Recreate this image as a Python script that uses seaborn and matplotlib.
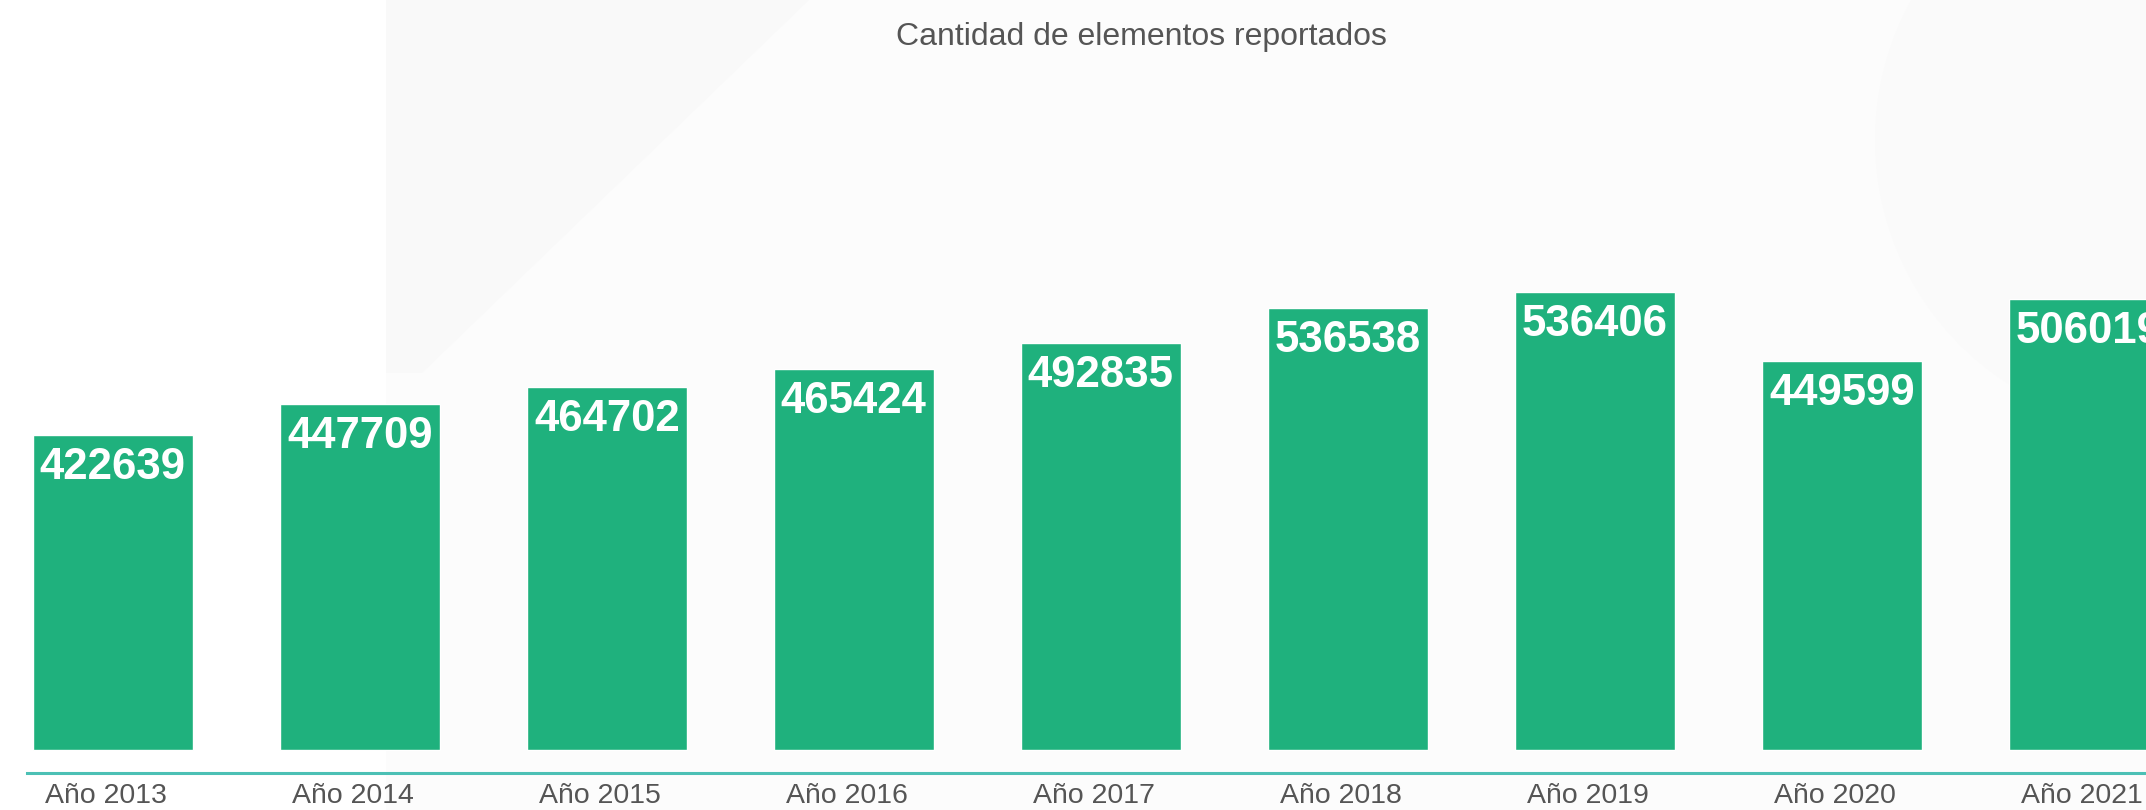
import matplotlib
matplotlib.use("Agg")
import matplotlib.pyplot as plt
from matplotlib.patches import Polygon, Circle, Rectangle
from matplotlib.transforms import ScaledTranslation
import seaborn as sns
import pandas as pd

sns.set_theme(style="white")
plt.rcParams["font.family"] = ["Liberation Sans", "DejaVu Sans"]

# data
years = ["Año 2013", "Año 2014", "Año 2015", "Año 2016", "Año 2017",
         "Año 2018", "Año 2019", "Año 2020", "Año 2021"]
# printed value on each bar
reported = [422639, 447709, 464702, 465424, 492835, 536538, 536406, 449599, 506019]
# drawn bar lengths (the source bars are not proportional to the printed values)
bar_heights = [422639, 464500, 487000, 511500, 546400, 593500, 614400, 522100, 605600]

W, H, DPI = 2146, 810, 100
BAR_COLOR = "#1fb17d"
LINE_COLOR = "#4cc0b5"
TEXT_GRAY = "#555555"

df = pd.DataFrame({"year": years, "height": bar_heights, "value": reported})

fig = plt.figure(figsize=(W / DPI, H / DPI), dpi=DPI, facecolor="white")


def px(x, y):
    # pixel (from top-left) -> figure fraction
    return (x / W, 1 - y / H)


# very faint watermark shapes in the background
panel = Rectangle(px(386, H), (W - 386) / W, 1, transform=fig.transFigure,
                  facecolor="#fcfcfc", edgecolor="none", zorder=-3)
fig.patches.append(panel)
slab = Polygon([px(386, 0), px(809, 0), px(422, 373), px(386, 373)],
               closed=True, transform=fig.transFigure, facecolor="#f9f9f9",
               edgecolor="none", zorder=-2)
fig.patches.append(slab)
circ = Circle((2165, H - 140), 290, transform=None, facecolor="#fafafa",
              edgecolor="none", zorder=-2)
fig.patches.append(circ)

ax = fig.add_axes([26.7 / W, (H - 773.3) / H, 1 - 26.7 / W, (773.3 - 100) / H])
ax.patch.set_alpha(0)

sns.barplot(data=df, x="year", y="height", color=BAR_COLOR, width=0.648,
            saturation=1, ax=ax)

k = 422639 / 314.5  # data units per pixel
ax.set_ylim(-23.8 * k, 649.5 * k)
ax.set_xlim(-0.348, (W - 113) / 247)

for i, (h, v) in enumerate(zip(bar_heights, reported)):
    ax.annotate(str(v), (i, h), xytext=(0, -23.5), textcoords="offset points",
                ha="center", va="center", color="white", fontsize=31.5,
                fontweight="bold")

for s in ["top", "right", "left"]:
    ax.spines[s].set_visible(False)
ax.spines["bottom"].set_color(LINE_COLOR)
ax.spines["bottom"].set_linewidth(2.2)
ax.set_yticks([])
ax.set_xlabel("")
ax.set_ylabel("")
ax.tick_params(axis="x", length=0, pad=7, labelsize=20.5, labelcolor=TEXT_GRAY)
for lbl in ax.get_xticklabels():
    lbl.set_transform(lbl.get_transform() + ScaledTranslation(-7 / DPI, 0, fig.dpi_scale_trans))

fig.text(1141 / W, 1 - 37 / H, "Cantidad de elementos reportados",
         ha="center", va="center", fontsize=23, color=TEXT_GRAY)

fig.savefig("out.png", dpi=DPI, facecolor=fig.get_facecolor())
plt.close(fig)
